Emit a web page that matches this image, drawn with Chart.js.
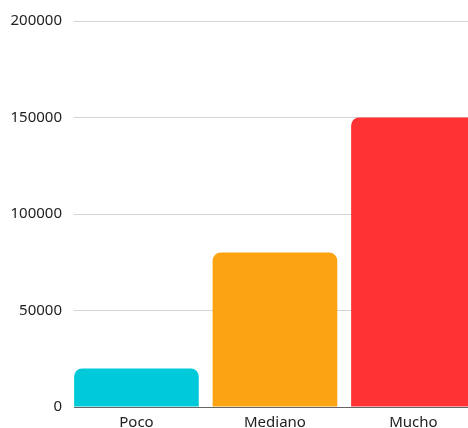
<!DOCTYPE html>
<html>
<head>
<meta charset="utf-8">
<script src="https://cdn.jsdelivr.net/npm/chart.js@4/dist/chart.umd.min.js"></script>
<style>
html,body{margin:0;padding:0;background:#fff;overflow:hidden;}
#wrap{width:468px;height:428px;}
</style>
</head>
<body>
<div id="wrap"><canvas id="c" width="468" height="428"></canvas></div>
<script>
const categories = ["Poco", "Mediano", "Mucho"];
const values = [20000, 80000, 150000];
const barColors = ["#00C9DA", "#FCA311", "#FF3333"];
const yTicks = [0, 50000, 100000, 150000, 200000];

Chart.defaults.font.family = "'Noto Sans', sans-serif";
Chart.defaults.font.size = 15;
Chart.defaults.color = "#222";

new Chart(document.getElementById('c'), {
  type: 'bar',
  data: {
    datasets: [{
      data: categories.map((c, i) => ({ x: i, y: values[i] })),
      backgroundColor: barColors,
      borderRadius: 8,
      borderSkipped: 'start',
      categoryPercentage: 1,
      barPercentage: 0.9
    }]
  },
  options: {
    responsive: false,
    animation: false,
    layout: { padding: { top: 19, right: 0, bottom: 0, left: 0 } },
    plugins: { legend: { display: false }, tooltip: { enabled: false } },
    scales: {
      x: {
        type: 'linear',
        offset: false,
        min: -0.451,
        max: 2.394,
        afterBuildTicks: s => { s.ticks = categories.map((c, i) => ({ value: i })); },
        afterFit: s => { s.height = 20; },
        ticks: {
          padding: 7,
          maxRotation: 0,
          autoSkip: false,
          callback: v => categories[v]
        },
        grid: { display: false, drawTicks: false },
        border: { display: true, color: '#666', width: 1 }
      },
      y: {
        min: 0,
        max: 200000,
        afterBuildTicks: s => { s.ticks = yTicks.map(v => ({ value: v })); },
        afterFit: s => { s.width = 74; },
        ticks: { padding: 12, callback: v => String(v) },
        grid: { color: '#d4d4d4', drawTicks: false },
        border: { display: false }
      }
    }
  }
});
</script>
</body>
</html>
